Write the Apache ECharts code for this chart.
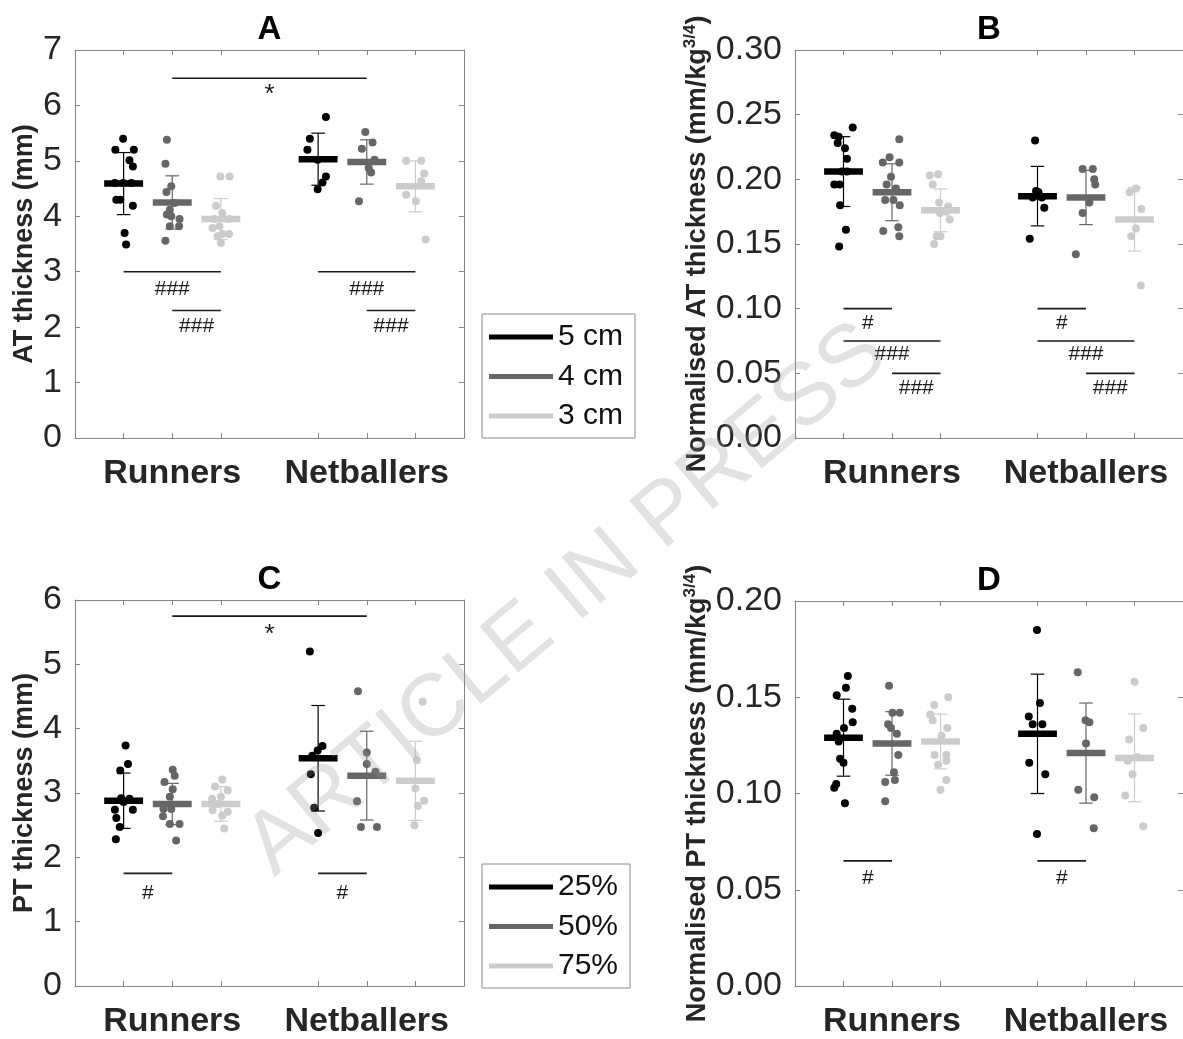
<!DOCTYPE html>
<html><head><meta charset="utf-8">
<script src="https://cdn.jsdelivr.net/npm/echarts@6/dist/echarts.min.js"></script>
<style>html,body{margin:0;padding:0;background:#fff}#c{width:1183px;height:1039px}</style>
</head><body><div id="c"></div>
<script>
// ---------------- DATA ----------------
const categories = ['Runners', 'Netballers'];
const levelsAT = ['5 cm', '4 cm', '3 cm'];
const levelsPT = ['25%', '50%', '75%'];
const yTicksA = [0, 7, 1];
const yTicksB = [0, 0.30, 0.05];
const yTicksC = [0, 6, 1];
const yTicksD = [0, 0.20, 0.05];

// points: [x jitter, value]
const A_5cm_run = [[-0.01,5.40],[-0.17,5.20],[0.21,5.20],[0.12,5.01],[0.19,4.90],[-0.18,4.60],[-0.01,4.60],[0.16,4.60],[-0.15,4.30],[-0.07,4.30],[0.19,4.19],[0.02,3.70],[0.05,3.49]];
const A_5cm_net = [[0.16,5.79],[-0.17,5.40],[-0.22,5.20],[-0.01,5.02],[0.16,4.72],[0.09,4.61],[-0.01,4.49]];
const A_4cm_run = [[-0.11,5.38],[-0.14,4.95],[-0.02,4.54],[-0.12,4.44],[0.05,4.24],[-0.05,4.12],[-0.11,4.03],[-0.02,4.00],[0.15,3.95],[-0.05,3.82],[0.14,3.82],[-0.14,3.56]];
const A_4cm_net = [[-0.03,5.52],[0.12,5.33],[-0.10,5.22],[0.16,5.02],[0.04,4.87],[0.09,4.79],[-0.16,4.27]];
const A_3cm_run = [[-0.01,4.72],[0.18,4.72],[-0.10,4.19],[0.03,4.06],[-0.14,3.95],[0.17,3.95],[-0.17,3.79],[-0.03,3.82],[0.17,3.68],[0.03,3.68],[-0.07,3.64],[0.00,3.52]];
const A_3cm_net = [[-0.19,5.00],[0.12,5.00],[0.18,4.77],[0.12,4.63],[-0.19,4.39],[0.01,4.27],[0.21,3.58]];
const A_mean = [[4.59,5.03],[4.25,4.98],[3.95,4.54]];
const A_sd = [[0.56,0.47],[0.48,0.40],[0.37,0.46]];
const A_sigLines = [[2,6,6.49],[1,3,3.0],[2,3,2.3],[5,7,3.0],[6,7,2.3]];
const A_sigText = [[4,6.28,'*'],[2,2.69,'###'],[2.5,2.01,'###'],[6,2.69,'###'],[6.5,2.01,'###']];

const B_5cm_run = [[0.19,0.240],[-0.19,0.234],[-0.10,0.233],[-0.12,0.228],[0.03,0.224],[0.07,0.216],[-0.03,0.206],[0.07,0.206],[-0.19,0.196],[-0.08,0.196],[-0.07,0.180],[0.05,0.161],[-0.09,0.148]];
const B_5cm_net = [[-0.05,0.230],[-0.03,0.191],[0.02,0.190],[-0.10,0.186],[0.09,0.186],[0.14,0.178],[-0.16,0.154]];
const B_4cm_run = [[0.15,0.231],[-0.05,0.217],[-0.19,0.213],[0.15,0.213],[-0.02,0.202],[-0.11,0.196],[0.08,0.193],[-0.14,0.184],[0.03,0.184],[0.16,0.180],[-0.18,0.160],[0.13,0.163],[0.15,0.156]];
const B_4cm_net = [[-0.07,0.208],[0.14,0.208],[0.17,0.200],[0.19,0.196],[0.07,0.182],[-0.07,0.174],[-0.21,0.142]];
const B_3cm_run = [[-0.22,0.203],[-0.05,0.204],[-0.16,0.196],[-0.03,0.182],[0.16,0.179],[0.12,0.175],[-0.01,0.174],[0.19,0.169],[-0.08,0.156],[0.00,0.156],[-0.13,0.150]];
const B_3cm_net = [[-0.10,0.190],[0.03,0.193],[0.14,0.177],[0.03,0.162],[-0.07,0.156],[0.13,0.118]];
const B_mean = [[0.206,0.187],[0.190,0.186],[0.176,0.169]];
const B_sd = [[0.027,0.023],[0.022,0.021],[0.0165,0.0245]];
const B_sigLines = [[1,2,0.100],[1,3,0.075],[2,3,0.050],[5,6,0.100],[5,7,0.075],[6,7,0.050]];
const B_sigText = [[1.5,0.089,'#'],[2,0.0645,'###'],[2.5,0.0387,'###'],[5.5,0.089,'#'],[6,0.0645,'###'],[6.5,0.0387,'###']];

const C_25_run = [[0.04,3.74],[0.09,3.45],[-0.07,3.35],[-0.05,2.92],[0.12,2.91],[0.19,2.74],[-0.18,2.74],[-0.15,2.61],[-0.08,2.47],[-0.16,2.28],[0.00,2.86]];
const C_25_net = [[-0.17,5.20],[0.09,3.73],[-0.01,3.66],[-0.12,3.58],[-0.15,3.29],[-0.08,2.77],[0.00,2.38]];
const C_50_run = [[0.01,3.36],[0.05,3.27],[-0.16,3.17],[0.01,3.06],[-0.05,2.94],[-0.02,2.75],[-0.18,2.75],[-0.19,2.64],[-0.05,2.52],[0.15,2.52],[0.08,2.26]];
const C_50_net = [[-0.18,4.58],[0.00,3.63],[0.00,3.45],[0.18,3.33],[-0.20,2.87],[-0.12,2.47],[0.21,2.47]];
const C_75_run = [[0.03,3.21],[-0.12,3.10],[0.14,3.04],[-0.18,2.91],[0.00,2.94],[-0.07,2.83],[-0.17,2.73],[0.03,2.65],[0.14,2.71],[0.07,2.45]];
const C_75_net = [[0.15,4.42],[0.03,3.51],[0.00,3.07],[0.18,2.88],[0.05,2.80],[-0.02,2.50]];
const C_mean = [[2.88,3.54],[2.83,3.27],[2.83,3.19]];
const C_sd = [[0.43,0.82],[0.32,0.69],[0.27,0.615]];
const C_sigLines = [[2,6,5.75],[1,2,1.75],[5,6,1.75]];
const C_sigText = [[4,5.54,'*'],[1.5,1.44,'#'],[5.5,1.44,'#']];

const D_25_run = [[0.09,0.161],[0.05,0.155],[-0.14,0.151],[0.18,0.144],[0.19,0.137],[0.01,0.134],[-0.14,0.131],[-0.10,0.127],[-0.07,0.118],[0.00,0.116],[-0.15,0.105],[-0.19,0.103],[0.03,0.095]];
const D_25_net = [[-0.01,0.185],[0.05,0.147],[-0.18,0.140],[-0.10,0.136],[0.10,0.136],[-0.17,0.116],[0.16,0.110],[-0.01,0.079]];
const D_50_run = [[-0.06,0.156],[0.01,0.142],[0.16,0.142],[-0.08,0.136],[-0.02,0.134],[0.10,0.131],[0.13,0.120],[0.04,0.111],[-0.14,0.106],[0.06,0.107],[-0.14,0.096]];
const D_50_net = [[-0.17,0.163],[-0.01,0.138],[0.07,0.137],[0.00,0.126],[-0.16,0.102],[0.17,0.098],[0.16,0.082]];
const D_75_run = [[0.16,0.150],[-0.13,0.146],[-0.21,0.141],[-0.16,0.138],[0.14,0.134],[0.02,0.130],[-0.12,0.120],[0.12,0.120],[-0.05,0.115],[0.12,0.117],[0.12,0.107],[0.00,0.102]];
const D_75_net = [[0.00,0.158],[0.18,0.134],[-0.11,0.128],[-0.14,0.117],[0.06,0.119],[-0.04,0.110],[-0.19,0.099],[0.18,0.083]];
const D_mean = [[0.129,0.131],[0.126,0.121],[0.127,0.1185]];
const D_sd = [[0.020,0.031],[0.0165,0.026],[0.0142,0.0228]];
const D_sigLines = [[1,2,0.065],[5,6,0.065]];
const D_sigText = [[1.5,0.056,'#'],[5.5,0.056,'#']];

// ---------------- STYLE / LAYOUT ----------------
const FONT = '"Liberation Sans", Arial, Helvetica, sans-serif';
const levelColors = ['#000000', '#666666', '#cccccc'];
const axisGray = '#858585';
const textDark = '#262626';

const panels = [
  { title:'A', grid:{left:75, top:50, width:389, height:388}, ticks:yTicksA, dec:0,
    name:'AT thickness (mm)', gap:37, levels:levelsAT,
    pts:[[A_5cm_run,A_5cm_net],[A_4cm_run,A_4cm_net],[A_3cm_run,A_3cm_net]],
    mean:A_mean, sd:A_sd, sigL:A_sigLines, sigT:A_sigText },
  { title:'B', grid:{left:795, top:50, width:388, height:388}, ticks:yTicksB, dec:2,
    name:'Normalised AT thickness (mm/kg{sup|3/4})', gap:82, levels:levelsAT,
    pts:[[B_5cm_run,B_5cm_net],[B_4cm_run,B_4cm_net],[B_3cm_run,B_3cm_net]],
    mean:B_mean, sd:B_sd, sigL:B_sigLines, sigT:B_sigText },
  { title:'C', grid:{left:75, top:600, width:389, height:388}, ticks:yTicksC, dec:0,
    name:'PT thickness (mm)', gap:37, levels:levelsPT,
    pts:[[C_25_run,C_25_net],[C_50_run,C_50_net],[C_75_run,C_75_net]],
    mean:C_mean, sd:C_sd, sigL:C_sigLines, sigT:C_sigText },
  { title:'D', grid:{left:795, top:601, width:388, height:387}, ticks:yTicksD, dec:2,
    name:'Normalised PT thickness (mm/kg{sup|3/4})', gap:82, levels:levelsPT,
    pts:[[D_25_run,D_25_net],[D_50_run,D_50_net],[D_75_run,D_75_net]],
    mean:D_mean, sd:D_sd, sigL:D_sigLines, sigT:D_sigText }
];

const groupX = (cat, lvl) => 1 + 4 * cat + lvl;
const tickPos = [1,2,3,5,6,7];

const grids = [], xAxes = [], yAxes = [], series = [], graphics = [];

panels.forEach((p, i) => {
  grids.push(Object.assign({containLabel:false}, p.grid));
  const axLine = {show:true, onZero:false, lineStyle:{color:axisGray, width:1}};
  const tick = {show:true, inside:true, length:5, lineStyle:{color:axisGray, width:1}};
  xAxes.push({type:'value', gridIndex:i, position:'bottom', min:0, max:8, interval:1,
    axisLine:axLine, axisTick:Object.assign({customValues:tickPos}, tick), splitLine:{show:false},
    axisLabel:{show:true, customValues:[2,6], margin:19,
      formatter:v => categories[Math.round((v-2)/4)],
      fontSize:34, fontWeight:'bold', fontFamily:FONT, color:textDark}});
  xAxes.push({type:'value', gridIndex:i, position:'top', min:0, max:8, interval:1,
    axisLine:axLine, axisTick:Object.assign({customValues:tickPos}, tick), splitLine:{show:false},
    axisLabel:{show:false}});
  yAxes.push({type:'value', gridIndex:i, position:'left', min:p.ticks[0], max:p.ticks[1], interval:p.ticks[2],
    axisLine:axLine, axisTick:tick, splitLine:{show:false},
    axisLabel:{margin:13, fontSize:34, fontFamily:FONT, color:textDark,
      formatter:v => v.toFixed(p.dec)},
    name:p.name, nameLocation:'middle', nameRotate:90, nameGap:p.gap,
    nameTextStyle:{fontSize:27, fontWeight:'bold', fontFamily:FONT, color:textDark,
      rich:{sup:{fontSize:17, fontWeight:'bold', fontFamily:FONT, color:textDark, verticalAlign:'top', padding:[0,0,14,0]}}}});
  yAxes.push({type:'value', gridIndex:i, position:'right', min:p.ticks[0], max:p.ticks[1], interval:p.ticks[2],
    axisLine:axLine, axisTick:tick, splitLine:{show:false}, axisLabel:{show:false}});

  const xi = 2*i, yi = 2*i;
  // scatter points
  p.levels.forEach((lv, l) => {
    const data = [];
    p.pts[l].forEach((arr, c) => arr.forEach(([dx, v]) => data.push([groupX(c, l) + dx, v])));
    series.push({type:'scatter', name:lv, xAxisIndex:xi, yAxisIndex:yi, data,
      symbol:'circle', symbolSize:8, itemStyle:{color:levelColors[l], opacity:1}, z:2, silent:true});
  });
  // mean bars + SD error bars
  p.levels.forEach((lv, l) => {
    const data = categories.map((_, c) => [groupX(c, l), p.mean[l][c], p.sd[l][c]]);
    series.push({type:'custom', name:lv+' mean', xAxisIndex:xi, yAxisIndex:yi, data, z:3, silent:true,
      renderItem:(params, api) => {
        const x = api.value(0), m = api.value(1), s = api.value(2);
        const col = levelColors[l];
        const a = api.coord([x, m+s]), b = api.coord([x, m-s]);
        const cl1 = api.coord([x-0.14, m+s]), cr1 = api.coord([x+0.14, m+s]);
        const cl2 = api.coord([x-0.14, m-s]), cr2 = api.coord([x+0.14, m-s]);
        const ml = api.coord([x-0.4, m]), mr = api.coord([x+0.4, m]);
        const ls = {stroke:col, lineWidth:1.2};
        return {type:'group', children:[
          {type:'line', shape:{x1:a[0],y1:a[1],x2:b[0],y2:b[1]}, style:ls},
          {type:'line', shape:{x1:cl1[0],y1:cl1[1],x2:cr1[0],y2:cr1[1]}, style:ls},
          {type:'line', shape:{x1:cl2[0],y1:cl2[1],x2:cr2[0],y2:cr2[1]}, style:ls},
          {type:'line', shape:{x1:ml[0],y1:ml[1],x2:mr[0],y2:mr[1]}, style:{stroke:col, lineWidth:6.5}}
        ]};
      }});
  });
  // significance lines
  series.push({type:'custom', name:'sig lines '+i, xAxisIndex:xi, yAxisIndex:yi, data:p.sigL, z:4, silent:true,
    renderItem:(params, api) => {
      const a = api.coord([api.value(0), api.value(2)]), b = api.coord([api.value(1), api.value(2)]);
      return {type:'line', shape:{x1:a[0],y1:a[1],x2:b[0],y2:b[1]}, style:{stroke:'#1a1a1a', lineWidth:1.6}};
    }});
  const sigPos = p.sigT.map(r => [r[0], r[1]]);
  series.push({type:'custom', name:'sig text '+i, xAxisIndex:xi, yAxisIndex:yi, data:sigPos, z:4, silent:true,
    renderItem:(params, api) => {
      const t = p.sigT[params.dataIndex][2];
      const c = api.coord([api.value(0), api.value(1)]);
      const star = t === '*';
      return {type:'text', x:c[0], y:c[1] + (star ? 5 : 0),
        style:{text:t, fontSize: star ? 26 : 21, fontFamily:FONT, fill:'#1a1a1a', align:'center', verticalAlign:'middle'}};
    }});
  // title
  graphics.push({type:'text', x:p.grid.left + p.grid.width/2, y:p.grid.top - 20,
    style:{text:p.title, fontSize:33, fontWeight:'bold', fontFamily:FONT, fill:'#000', align:'center', verticalAlign:'middle'}});
});

// watermark
graphics.push({type:'text', x:567, y:600, rotation:40*Math.PI/180, z:100, silent:true,
  style:{text:'ARTICLE IN PRESS', fontSize:88, fontFamily:FONT, fill:'rgba(150,150,150,0.28)', align:'center', verticalAlign:'middle'}});

const legendBase = {orient:'vertical', icon:'rect', itemWidth:64, itemHeight:5, itemGap:9.5,
  padding:[8,12,7,7], borderColor:'#8a8a8a', borderWidth:1, backgroundColor:'#fff', selectedMode:false,
  textStyle:{fontSize:30, fontFamily:FONT, color:'#111', lineHeight:30}};

const option = {
  animation:false,
  backgroundColor:'#fff',
  grid:grids, xAxis:xAxes, yAxis:yAxes, series,
  legend:[
    Object.assign({}, legendBase, {left:482, top:314, data:levelsAT}),
    Object.assign({}, legendBase, {left:482, top:864, data:levelsPT})
  ],
  graphic:graphics
};
const chart = echarts.init(document.getElementById('c'), null, {renderer:'canvas'});
chart.setOption(option);
</script></body></html>
